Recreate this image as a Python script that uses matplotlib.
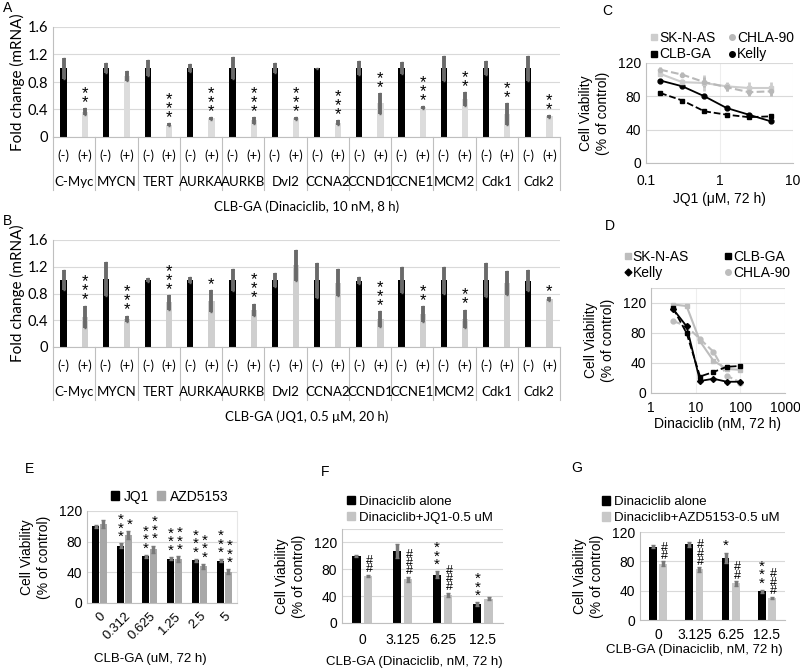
import matplotlib
matplotlib.use("Agg")
import matplotlib.pyplot as plt
from matplotlib.lines import Line2D
from matplotlib.patches import Patch
from matplotlib.transforms import blended_transform_factory

# ---- data: panels A and B (qPCR fold change) ----
genes = ['C-Myc', 'MYCN', 'TERT', 'AURKA', 'AURKB', 'Dvl2',
         'CCNA2', 'CCND1', 'CCNE1', 'MCM2', 'Cdk1', 'Cdk2']

a_ctrl = [1.0, 1.0, 1.0, 1.0, 1.0, 1.0, 1.0, 1.0, 1.0, 1.0, 1.0, 1.0]
a_ctrl_err = [0.15, 0.07, 0.12, 0.06, 0.16, 0.07, 0.01, 0.10, 0.09, 0.18, 0.10, 0.18]
a_trt = [0.37, 0.89, 0.18, 0.27, 0.24, 0.27, 0.21, 0.49, 0.43, 0.55, 0.34, 0.30]
a_trt_err = [0.05, 0.07, 0.02, 0.02, 0.05, 0.02, 0.03, 0.15, 0.02, 0.10, 0.16, 0.02]
a_stars = ['**', '', '***', '***', '***', '***', '***', '**', '***', '**', '**', '**']

b_ctrl = [1.0, 1.02, 1.0, 1.0, 1.0, 1.0, 1.0, 0.99, 1.0, 1.0, 1.0, 0.99]
b_ctrl_err = [0.15, 0.25, 0.03, 0.05, 0.17, 0.10, 0.26, 0.05, 0.19, 0.20, 0.25, 0.16]
b_trt = [0.45, 0.42, 0.67, 0.69, 0.56, 1.22, 0.96, 0.42, 0.49, 0.42, 0.96, 0.72]
b_trt_err = [0.17, 0.05, 0.11, 0.16, 0.09, 0.23, 0.20, 0.12, 0.12, 0.14, 0.18, 0.03]
b_stars = ['***', '***', '***', '*', '***', '', '', '***', '**', '**', '', '*']

# ---- data: panels C and D (dose response) ----
c_dose = [0.156, 0.3125, 0.625, 1.25, 2.5, 5]
c_sknas = [107, 97, 96, 92, 90, 90]
c_sknas_err = [3, 4, 10, 5, 7, 7]
c_chla = [112, 106, 97, 91, 85, 86]
c_chla_err = [3, 3, 6, 5, 5, 5]
c_clbga = [84, 75, 62, 58, 55, 56]
c_kelly = [99, 92, 80, 66, 58, 50]

d_dose = [3.125, 6.25, 12.5, 25, 50, 100]
d_sknas = [118, 116, 69, 43, 32, 31]
d_clbga = [113, 80, 22, 28, 35, 36]
d_kelly = [112, 89, 16, 19, 15, 15]
d_chla = [96, 89, 72, 55, 23, 14]

# ---- data: panel E ----
e_conc = ['0', '0.312', '0.625', '1.25', '2.5', '5']
e_jq1 = [100, 75, 61, 58, 56, 55]
e_jq1_err = [2, 3, 2, 2, 2, 2]
e_azd = [103, 89, 70, 57, 48, 41]
e_azd_err = [5, 5, 5, 4, 3, 3]
e_jq1_marks = ['', '***', '***', '***', '***', '***']
e_azd_marks = ['', '*', '***', '***', '***', '***']

# ---- data: panels F and G ----
fg_conc = ['0', '3.125', '6.25', '12.5']
f_alone = [100, 107, 72, 28]
f_alone_err = [2, 10, 5, 3]
f_combo = [70, 65, 42, 36]
f_combo_err = [2, 4, 3, 2]
f_alone_marks = ['', '', '***', '***']
f_combo_marks = ['##', '###', '###', '']

g_alone = [100, 103, 85, 39]
g_alone_err = [2, 4, 7, 2]
g_combo = [77, 69, 50, 30]
g_combo_err = [3, 3, 3, 2]
g_alone_marks = ['', '', '*', '***']
g_combo_marks = ['##', '###', '##', '###']

CAL = 'Lato'
ARIAL = 'Liberation Sans'
GRID = '#d9d9d9'
AXC = '#bfbfbf'
ERR = '#6a6a6a'

fig = plt.figure(figsize=(8, 6.69), dpi=100)


def ax_at(l, t, r, b):
    return fig.add_axes([l / 800, 1 - b / 669, (r - l) / 800, (b - t) / 669])


def fig_label(x, y, s):
    fig.text(x / 800, 1 - y / 669, s, ha='center', va='center', fontsize=9.5, family=ARIAL)


def mark(ax, x, y, s, size):
    # significance marks stacked vertically, as in the original figure
    if s[0] == '*':
        ax.text(x, y, '\n'.join(s), ha='center', va='bottom', fontsize=size + 1,
                family=ARIAL, linespacing=0.5)
    else:
        ax.text(x, y, '\n'.join(s), ha='center', va='bottom', fontsize=size - 1,
                family=ARIAL, linespacing=0.6)


def style(ax, font, ymax, ystep, top=None, size=10):
    for s in ['top', 'right']:
        ax.spines[s].set_visible(False)
    for s in ['left', 'bottom']:
        ax.spines[s].set_color(AXC)
    ax.set_axisbelow(True)
    ax.yaxis.grid(True, color=GRID, lw=0.8)
    ax.set_ylim(0, top if top else ymax)
    ticks = [i * ystep for i in range(int(round(ymax / ystep)) + 1)]
    ax.set_yticks(ticks)
    ax.set_yticklabels(['%g' % t for t in ticks], family=font, fontsize=size)
    ax.tick_params(length=0)


def fold_panel(ax, ctrl, ctrl_err, trt, trt_err, stars, trt_color, xlabel):
    x = list(range(len(genes)))
    xa = [i - 0.25 for i in x]
    xb = [i + 0.25 for i in x]
    ax.bar(xa, ctrl, width=0.15, color='black', zorder=2)
    ax.bar(xb, trt, width=0.15, color=trt_color, zorder=2)
    ax.errorbar(xa, ctrl, yerr=ctrl_err, fmt='none', ecolor=ERR, elinewidth=2.8, capsize=1, zorder=3)
    ax.errorbar(xb, trt, yerr=trt_err, fmt='none', ecolor=ERR, elinewidth=2.8, capsize=1, zorder=3)
    for i in x:
        if stars[i]:
            mark(ax, xb[i], trt[i] + trt_err[i] - 0.03, stars[i], 11)
    style(ax, CAL, 1.6, 0.4, size=10.5)
    ax.set_xlim(-0.5, len(genes) - 0.5)
    ax.set_xticks([])
    tr = blended_transform_factory(ax.transData, ax.transAxes)
    h = ax.get_position().height * 669
    for i in range(len(genes) + 1):
        ax.plot([i - 0.5, i - 0.5], [0, -53 / h], color=AXC, lw=0.8, transform=tr, clip_on=False)
    for i in x:
        ax.text(xa[i], -19 / h, '(-)', transform=tr, ha='center', va='center', fontsize=9.5, family=CAL)
        ax.text(xb[i], -19 / h, '(+)', transform=tr, ha='center', va='center', fontsize=9.5, family=CAL)
        ax.text(i, -45 / h, genes[i], transform=tr, ha='center', va='center', fontsize=9.5, family=CAL)
    ax.text(0.5, -70 / h, xlabel, transform=ax.transAxes, ha='center', va='center',
            fontsize=9.5, family=CAL)
    ax.set_ylabel('Fold change (mRNA)', family=CAL, fontsize=11, labelpad=2)


axA = ax_at(53, 27, 560, 137)
fold_panel(axA, a_ctrl, a_ctrl_err, a_trt, a_trt_err, a_stars, '#dcdcdc',
           'CLB-GA (Dinaciclib, 10 nM, 8 h)')
axB = ax_at(53, 240, 560, 347)
fold_panel(axB, b_ctrl, b_ctrl_err, b_trt, b_trt_err, b_stars, '#cfcfcf',
           'CLB-GA (JQ1, 0.5 \u03bcM, 20 h)')


def curve_style(ax, xl, xticks, top, xlabel):
    style(ax, ARIAL, 120, 40, top)
    ax.set_xscale('log')
    ax.set_xlim(*xl)
    ax.set_xticks(xticks)
    ax.set_xticklabels([('%g' % t) for t in xticks], family=ARIAL, fontsize=10)
    ax.minorticks_off()
    ax.xaxis.grid(True, color='#eeeeee', lw=0.8)
    ax.tick_params(axis='x', pad=8)
    ax.set_xlabel(xlabel, family=ARIAL, fontsize=10, labelpad=3)
    ax.set_ylabel('Cell Viability\n(% of control)', family=ARIAL, fontsize=10, labelpad=6)


# ---- panel C ----
axC = ax_at(646, 63, 793, 163)
axC.errorbar(c_dose, c_sknas, yerr=c_sknas_err, color='#cdcdcd', ls='-', marker='s', ms=3,
             lw=1.5, elinewidth=2, capsize=0)
axC.errorbar(c_dose, c_chla, yerr=c_chla_err, color='#b8b8b8', ls='--', marker='o', ms=3,
             lw=1.5, elinewidth=2, capsize=0)
axC.plot(c_dose, c_clbga, color='black', ls='--', marker='s', ms=3.5, lw=1.3)
axC.plot(c_dose, c_kelly, color='black', ls='-', marker='o', ms=3.5, lw=1.3)
curve_style(axC, (0.1, 10), [0.1, 1, 10], 120, 'JQ1 (\u03bcM, 72 h)')
hC = [Line2D([], [], ls='none', marker='s', ms=4, color='#cdcdcd'),
      Line2D([], [], ls='none', marker='s', ms=4, color='black'),
      Line2D([], [], ls='none', marker='o', ms=4, color='#b8b8b8'),
      Line2D([], [], ls='none', marker='o', ms=4, color='black')]
axC.legend(hC, ['SK-N-AS', 'CLB-GA', 'CHLA-90', 'Kelly'], ncol=2, loc='lower center',
           bbox_to_anchor=(0.52, 0.96), frameon=False, prop={'family': ARIAL, 'size': 10},
           handlelength=0.5, handletextpad=0.1, columnspacing=1.0, labelspacing=0.2,
           borderaxespad=0)

# ---- panel D ----
axD = ax_at(651, 288, 785, 393)
axD.plot(d_dose, d_sknas, color='#bdbdbd', ls='-', marker='s', ms=3.5, lw=1.5)
axD.plot(d_dose, d_chla, color='#bdbdbd', ls='--', marker='o', ms=3.5, lw=1.5)
axD.plot(d_dose, d_clbga, color='black', ls='--', marker='s', ms=3.5, lw=1.3)
axD.plot(d_dose, d_kelly, color='black', ls='-', marker='D', ms=3, lw=1.3)
curve_style(axD, (1, 1000), [1, 10, 100, 1000], 140, 'Dinaciclib (nM, 72 h)')
axD.tick_params(axis='x', pad=6)
axD.xaxis.labelpad = 1
axD.axhline(140, color=GRID, lw=0.8)
hD = [Line2D([], [], ls='none', marker='s', ms=4, color='#bdbdbd'),
      Line2D([], [], ls='none', marker='D', ms=3.5, color='black'),
      Line2D([], [], ls='none', marker='s', ms=4, color='black'),
      Line2D([], [], ls='none', marker='o', ms=4, color='#bdbdbd')]
axD.legend(hD, ['SK-N-AS', 'Kelly', 'CLB-GA', 'CHLA-90'], ncol=2, loc='lower center',
           bbox_to_anchor=(0.42, 1.02), frameon=False, prop={'family': ARIAL, 'size': 10},
           handlelength=0.5, handletextpad=0.1, columnspacing=2.6, labelspacing=0.2,
           borderaxespad=0)


def pair_bars(ax, cats, y1, e1, m1, c1, y2, e2, m2, c2, off, w, msize=10):
    x = list(range(len(cats)))
    x1 = [i - off for i in x]
    x2 = [i + off for i in x]
    ax.bar(x1, y1, width=w, color=c1, zorder=2)
    ax.bar(x2, y2, width=w, color=c2, zorder=2)
    ax.errorbar(x1, y1, yerr=e1, fmt='none', ecolor='#7a7a7a', elinewidth=2.5, capsize=1.5, zorder=3)
    ax.errorbar(x2, y2, yerr=e2, fmt='none', ecolor='#7a7a7a', elinewidth=2.5, capsize=1.5, zorder=3)
    for i in x:
        if m1[i]:
            mark(ax, x1[i], y1[i] + e1[i] - 1, m1[i], msize)
        if m2[i]:
            mark(ax, x2[i] + 0.04, y2[i] + e2[i] - 1, m2[i], msize)
    ax.set_xlim(-0.5, len(cats) - 0.5)
    ax.set_xticks(x)


# ---- panel E ----
axE = ax_at(87, 511, 237, 603)
pair_bars(axE, e_conc, e_jq1, e_jq1_err, e_jq1_marks, 'black',
          e_azd, e_azd_err, e_azd_marks, '#a8a8a8', 0.15, 0.27)
style(axE, ARIAL, 120, 40)
axE.spines['right'].set_visible(True)
axE.spines['right'].set_color('#e6e6e6')
axE.set_xticklabels(e_conc, rotation=45, ha='right', rotation_mode='anchor', family=ARIAL, fontsize=9.5)
axE.tick_params(axis='x', pad=5)
fig_label(150, 659, 'CLB-GA (uM, 72 h)')
axE.set_ylabel('Cell Viability\n(% of control)', family=ARIAL, fontsize=10, labelpad=6)
axE.legend([Patch(color='black'), Patch(color='#a8a8a8')], ['JQ1', 'AZD5153'], ncol=2,
           loc='lower center', bbox_to_anchor=(0.55, 1.02), frameon=False,
           prop={'family': ARIAL, 'size': 10}, handlelength=0.6, handleheight=0.6,
           handletextpad=0.3, columnspacing=0.6, borderaxespad=0)

# ---- panel F ----
axF = ax_at(342, 529, 503, 623)
pair_bars(axF, fg_conc, f_alone, f_alone_err, f_alone_marks, 'black',
          f_combo, f_combo_err, f_combo_marks, '#c4c4c4', 0.14, 0.21)
style(axF, ARIAL, 120, 40, 140)
axF.axhline(140, color=GRID, lw=0.8)
axF.set_xticklabels(fg_conc, family=ARIAL, fontsize=10)
axF.tick_params(axis='x', pad=7)
fig_label(414, 662, 'CLB-GA (Dinaciclib, nM, 72 h)')
axF.set_ylabel('Cell Viability\n(% of control)', family=ARIAL, fontsize=10, labelpad=6)
axF.legend([Patch(color='black'), Patch(color='#c4c4c4')],
           ['Dinaciclib alone', 'Dinaciclib+JQ1-0.5 uM'], loc='lower left',
           bbox_to_anchor=(0.0, 1.0), frameon=False, prop={'family': ARIAL, 'size': 9.5},
           handlelength=0.6, handleheight=0.6, handletextpad=0.3, labelspacing=0.3,
           borderaxespad=0)

# ---- panel G ----
axG = ax_at(640, 532, 785, 620)
pair_bars(axG, fg_conc, g_alone, g_alone_err, g_alone_marks, 'black',
          g_combo, g_combo_err, g_combo_marks, '#c8c8c8', 0.14, 0.21)
style(axG, ARIAL, 120, 40)
axG.set_xticklabels(fg_conc, family=ARIAL, fontsize=10)
axG.tick_params(axis='x', pad=6)
fig_label(694, 650, 'CLB-GA (Dinaciclib, nM, 72 h)')
axG.set_ylabel('Cell Viability\n(% of control)', family=ARIAL, fontsize=10, labelpad=6)
axG.legend([Patch(color='black'), Patch(color='#c8c8c8')],
           ['Dinaciclib alone', 'Dinaciclib+AZD5153-0.5 uM'], loc='lower left',
           bbox_to_anchor=(-0.3, 1.03), frameon=False, prop={'family': ARIAL, 'size': 9.5},
           handlelength=0.6, handleheight=0.6, handletextpad=0.3, labelspacing=0.3,
           borderaxespad=0)

# ---- panel letters ----
for lab, x, y in [('A', 8, 8), ('B', 8, 221), ('C', 607, 11), ('D', 610, 226),
                  ('E', 30, 469), ('F', 325, 472), ('G', 577, 468)]:
    fig.text(x / 800, 1 - y / 669, lab, ha='center', va='center', fontsize=10, family=ARIAL)

fig.savefig('out.png', dpi=100)
